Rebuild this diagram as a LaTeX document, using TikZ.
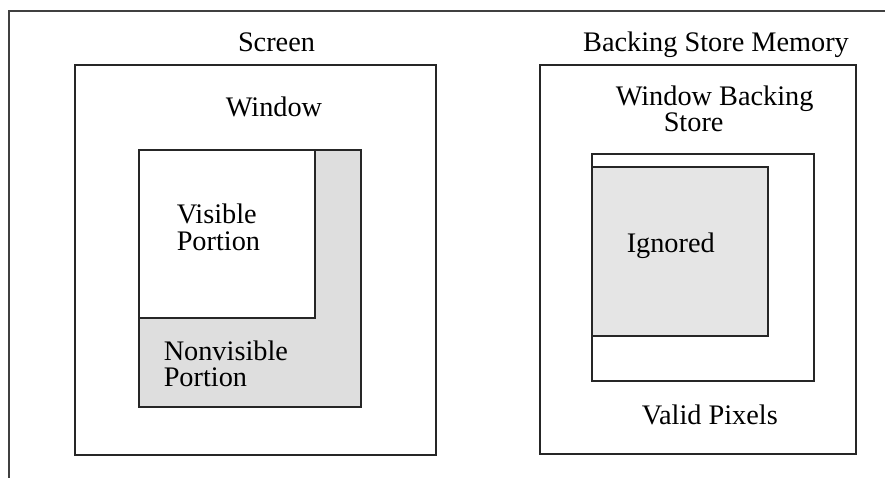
\documentclass[tikz,border=0pt]{standalone}
\usepackage{fontspec}
\setmainfont{Liberation Serif}
\usepackage{tikz}

\begin{document}
\begin{tikzpicture}[x=1pt,y=-1pt,line width=1.5pt,
  lbl/.style={inner sep=0pt,font=\fontsize{28.3}{26}\selectfont},
  shade/.style={fill=black!13,draw=black!85}]

\useasboundingbox (0,0) rectangle (885,478);

\draw[black!75] (9,478) -- (9,11) -- (885,11);

\draw[black!85] (75,65) rectangle (436,455);
\draw[black!85] (540,65) rectangle (856,454);

\draw[shade] (139,150) rectangle (361,407);
\draw[black!85,fill=white] (139,150) rectangle (315,318);

\draw[black!85] (592,154) rectangle (814,381);
\draw[shade,fill=black!10] (592,167) rectangle (768,336);

\node[lbl,anchor=base] (scr) at (276.5,52) {Screen};
\node[lbl,anchor=base] (bsm) at (716,52) {Backing Store Memory};
\node[lbl,anchor=base] (win) at (274,117) {Window};

\node[lbl,anchor=base west] (wbs) at (615,106) {Window Backing};
\node[lbl,anchor=base west] (wbs2) at (663,132) {Store};

\node[lbl,anchor=base west,align=left] (vis) at (176,250) {Visible\\Portion};
\node[lbl,anchor=base west,align=left] (nvis) at (163,386) {Nonvisible\\Portion};
\node[lbl,anchor=base west] (ign) at (626,252) {Ignored};
\node[lbl,anchor=base west] (vp) at (641,424) {Valid Pixels};
\end{tikzpicture}
\end{document}
